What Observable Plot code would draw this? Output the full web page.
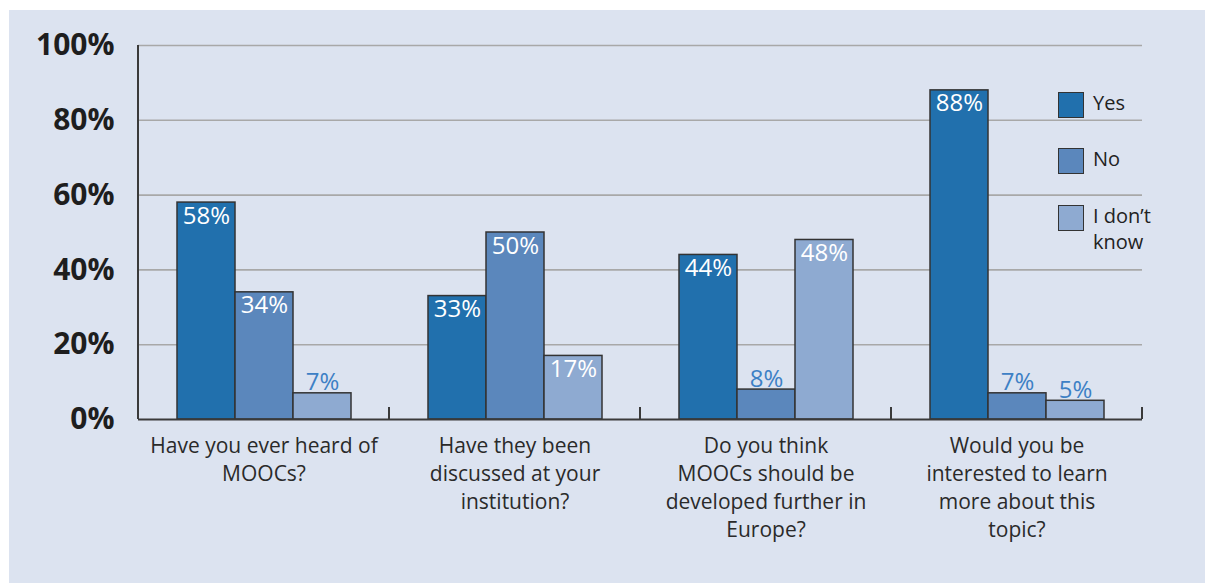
<!DOCTYPE html>
<html>
<head>
<meta charset="utf-8">
<script src="https://cdn.jsdelivr.net/npm/d3@7"></script>
<script src="https://cdn.jsdelivr.net/npm/@observablehq/plot@0.6"></script>
<style>
  body { margin: 0; background: #ffffff; }
  #wrap { position: absolute; left: 9px; top: 10px; width: 1196px; height: 573px; background: #dce3f0; font-family: "Open Sans", sans-serif; }
  #chart svg { display: block; background: transparent; }
  #legend { position: absolute; left: 1049px; top: 82px; color: #222; font-size: 20px; }
  .item { position: absolute; left: 0; display: flex; align-items: flex-start; white-space: nowrap; }
  .sw { width: 24px; height: 24px; border: 1.5px solid #333; box-sizing: content-box; }
  .lbl { margin-left: 9px; line-height: 26px; margin-top: -2px; }
</style>
</head>
<body>
<div id="wrap">
  <div id="chart"></div>
  <div id="legend"></div>
</div>
<script>
// ---- data ----
const questions = [
  "Have you ever heard of MOOCs?",
  "Have they been discussed at your institution?",
  "Do you think MOOCs should be developed further in Europe?",
  "Would you be interested to learn more about this topic?"
];
const questionLabels = [
  "Have you ever heard of\nMOOCs?",
  "Have they been\ndiscussed at your\ninstitution?",
  "Do you think\nMOOCs should be\ndeveloped further in\nEurope?",
  "Would you be\ninterested to learn\nmore about this\ntopic?"
];
const answers = ["Yes", "No", "I don’t know"];
const answerLabels = ["Yes", "No", "I don’t\nknow"];
const yesValues = [58, 33, 44, 88];
const noValues = [34, 50, 8, 7];
const dontKnowValues = [7, 17, 48, 5];
const yTicks = [0, 20, 40, 60, 80, 100];
const colors = ["#2170ad", "#5b87bc", "#8eaad1"];

// ---- table ----
const series = [yesValues, noValues, dontKnowValues];
const rows = [];
questions.forEach((q, i) => answers.forEach((a, j) => rows.push({q, a, v: series[j][i]})));
const inside = rows.filter(d => d.v >= 15);
const outside = rows.filter(d => d.v < 15);

// mark drawn once over the whole frame: y axis line and group boundary ticks
class AxisLines extends Plot.Mark {
  constructor() { super(undefined, {}, {facet: "super"}); }
  render(index, scales, values, dims) {
    const g = d3.create("svg:g");
    const y0 = scales.y(0), y1 = scales.y(100);
    const left = dims.marginLeft, right = dims.width - dims.marginRight;
    g.append("line").attr("x1", left).attr("x2", left).attr("y1", y1).attr("y2", y0)
      .attr("stroke", "#3a3a3a").attr("stroke-width", 2);
    const n = questions.length;
    for (let i = 1; i <= n; i++) {
      const x = left + (right - left) * i / n;
      g.append("line").attr("x1", x).attr("x2", x).attr("y1", y0 - 12).attr("y2", y0)
        .attr("stroke", "#3a3a3a").attr("stroke-width", 2);
    }
    return g.node();
  }
}

const plot = Plot.plot({
  width: 1196,
  height: 573,
  marginLeft: 127,
  marginRight: 62,
  marginTop: 35,
  marginBottom: 164,
  style: {fontFamily: "'Open Sans', sans-serif", background: "transparent", overflow: "visible"},
  fx: {domain: questions, padding: 0, axis: null},
  x: {domain: answers, paddingInner: 0, paddingOuter: 0.66, axis: null},
  y: {domain: [0, 100], axis: null},
  color: {domain: answers, range: colors},
  marks: [
    Plot.gridY(yTicks.filter(t => t > 0), {stroke: "#a8a8a8", strokeOpacity: 1, strokeWidth: 1.6}),
    Plot.barY(rows, {fx: "q", x: "a", y: "v", fill: "a", stroke: "#333", strokeWidth: 1.5}),
    Plot.ruleY([0], {stroke: "#3a3a3a", strokeWidth: 2}),
    new AxisLines(),
    Plot.axisY({ticks: yTicks, tickFormat: d => d + "%", tickSize: 0, tickPadding: 24, label: null,
      fontSize: 30, fontWeight: "bold", fill: "#1e1e1e"}),
    Plot.text(inside, {fx: "q", x: "a", y: "v", text: d => d.v + "%", lineAnchor: "top", dy: 4,
      fill: "white", fontSize: 24}),
    Plot.text(outside, {fx: "q", x: "a", y: "v", text: d => d.v + "%", lineAnchor: "bottom", dy: -3,
      fill: "#3d80c5", fontSize: 24}),
    Plot.text(questions, {fx: d => d, text: (d, i) => questionLabels[i], frameAnchor: "bottom",
      lineAnchor: "top", dy: 14, lineHeight: 1.33, fontSize: 21, fill: "#2a2a2a"})
  ]
});
document.getElementById("chart").appendChild(plot);

// legend
const legend = document.getElementById("legend");
const legendTops = [0, 56, 113];
answers.forEach((a, j) => {
  const item = document.createElement("div");
  item.className = "item";
  item.style.top = legendTops[j] + "px";
  const sw = document.createElement("div");
  sw.className = "sw";
  sw.style.background = colors[j];
  const lb = document.createElement("div");
  lb.className = "lbl";
  lb.innerHTML = answerLabels[j].replace("\n", "<br>");
  item.appendChild(sw); item.appendChild(lb);
  legend.appendChild(item);
});
</script>
</body>
</html>
